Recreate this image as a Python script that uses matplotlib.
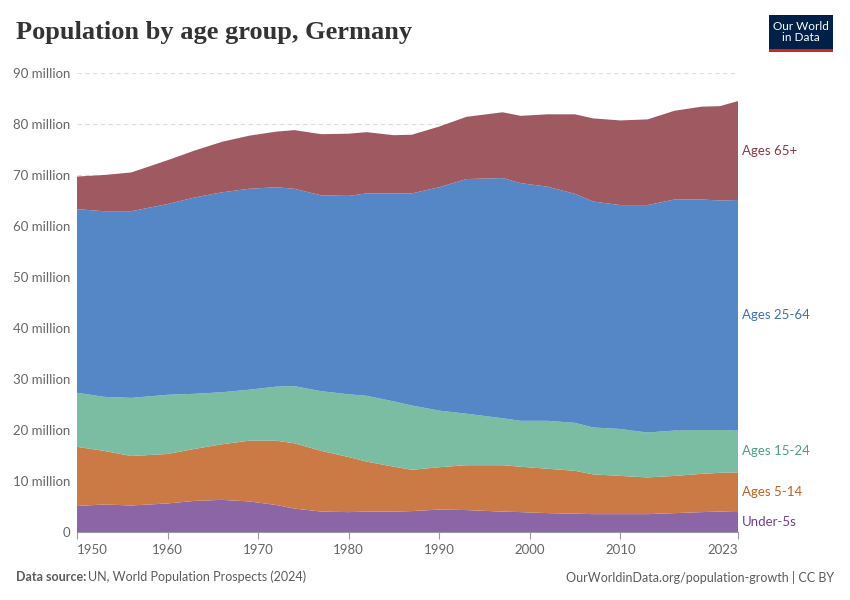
import matplotlib
matplotlib.use('Agg')
import matplotlib.pyplot as plt
from matplotlib.patches import Rectangle

plt.rcParams['font.family'] = ['Lato', 'DejaVu Sans']

# values (millions)
years = [1950, 1953, 1956, 1960, 1963, 1966, 1969, 1972, 1974, 1977, 1980, 1982, 1985, 1987,
         1990, 1993, 1997, 1999, 2002, 2005, 2007, 2010, 2013, 2016, 2019, 2021, 2023]
under5 = [5.1, 5.4, 5.2, 5.6, 6.1, 6.3, 6.0, 5.3, 4.6, 4.0, 3.9, 4.0, 4.0, 4.1,
          4.4, 4.3, 4.0, 3.9, 3.7, 3.6, 3.5, 3.5, 3.5, 3.7, 3.9, 4.0, 3.9]
ages5_14 = [11.6, 10.5, 9.7, 9.7, 10.2, 10.9, 11.9, 12.6, 12.8, 11.9, 10.8, 9.8, 8.8, 8.1,
            8.3, 8.8, 9.1, 8.9, 8.7, 8.4, 7.8, 7.5, 7.2, 7.3, 7.5, 7.6, 7.8]
ages15_24 = [10.6, 10.6, 11.4, 11.6, 10.8, 10.2, 10.0, 10.6, 11.2, 11.7, 12.3, 12.9, 12.8, 12.6,
             11.1, 10.1, 9.2, 9.0, 9.4, 9.4, 9.2, 9.2, 8.8, 8.9, 8.6, 8.4, 8.2]
ages25_64 = [36.0, 36.4, 36.6, 37.4, 38.5, 39.2, 39.4, 39.1, 38.7, 38.4, 38.9, 39.7, 40.8, 41.6,
             43.8, 46.0, 47.1, 46.6, 45.9, 44.9, 44.3, 43.9, 44.6, 45.3, 45.2, 45.0, 45.2]
ages65 = [6.4, 7.1, 7.6, 8.6, 9.2, 9.9, 10.4, 10.9, 11.5, 12.0, 12.2, 12.0, 11.4, 11.5,
          11.9, 12.2, 12.9, 13.2, 14.2, 15.6, 16.3, 16.6, 16.8, 17.4, 18.2, 18.5, 19.4]

series = [under5, ages5_14, ages15_24, ages25_64, ages65]
names = ['Under-5s', 'Ages 5-14', 'Ages 15-24', 'Ages 25-64', 'Ages 65+']
fills = ['#8b65a5', '#cc7a45', '#7abda2', '#5587c6', '#9e5961']
textcols = ['#6c3e91', '#c0601f', '#4f9f80', '#3d6fb8', '#8a3a44']

fig = plt.figure(figsize=(8.5, 6), dpi=100)
ax = fig.add_axes([77/850, 1-532/600, (738-77)/850, (532-73)/600])

ax.stackplot(years, series, colors=fills, linewidth=0)

ax.set_xlim(1950, 2023)
ax.set_ylim(0, 90)
yt = list(range(0, 91, 10))
ax.set_yticks(yt)
ax.set_yticklabels(['0'] + ['%d million' % v for v in yt[1:]])
ax.yaxis.grid(True, color='#dddddd', linestyle=(0, (4, 3)), linewidth=0.8)
ax.set_axisbelow(True)
for s in ['top', 'right', 'left']:
    ax.spines[s].set_visible(False)
ax.spines['bottom'].set_color('#999999')
ax.tick_params(axis='y', length=0, pad=5, labelsize=9.5, labelcolor='#666666')
xt = [1950, 1960, 1970, 1980, 1990, 2000, 2010, 2023]
ax.set_xticks(xt)
ax.set_xticklabels([str(v) for v in xt])
ax.tick_params(axis='x', length=5, color='#999999', labelsize=9.5, labelcolor='#666666', pad=4)
labs = ax.get_xticklabels()
labs[0].set_ha('left')
labs[-1].set_ha('right')

# end labels at the middle of each band in the last year
base = 0
for vals, name, c in zip(series, names, textcols):
    mid = base + vals[-1] / 2
    base += vals[-1]
    ax.text(2023.45, mid, name, color=c, fontsize=9.5, va='center', ha='left', clip_on=False)

fig.text(16/850, 1-33/600, 'Population by age group, Germany', family='Liberation Serif',
         fontsize=19, weight='bold', color='#333333', va='center', ha='left')

# logo
fig.patches.append(Rectangle((769/850, 1-52/600), 64/850, 37/600, transform=fig.transFigure,
                             facecolor='#002147', edgecolor='none'))
fig.patches.append(Rectangle((769/850, 1-52/600), 64/850, 3/600, transform=fig.transFigure,
                             facecolor='#ce261e', edgecolor='none'))
fig.text(801/850, 1-32/600, 'Our World\nin Data', color='white', fontsize=8.5,
         ha='center', va='center', linespacing=1.0)

fig.text(16/850, 1-577/600, 'Data source:', fontsize=9, color='#5b5b5b', weight='bold',
         va='center', ha='left')
fig.text(88/850, 1-577/600, 'UN, World Population Prospects (2024)', fontsize=9,
         color='#5b5b5b', va='center', ha='left')
fig.text(834/850, 1-577/600, 'OurWorldinData.org/population-growth | CC BY', fontsize=9,
         color='#5b5b5b', va='center', ha='right')

fig.savefig('out.png', dpi=100)
